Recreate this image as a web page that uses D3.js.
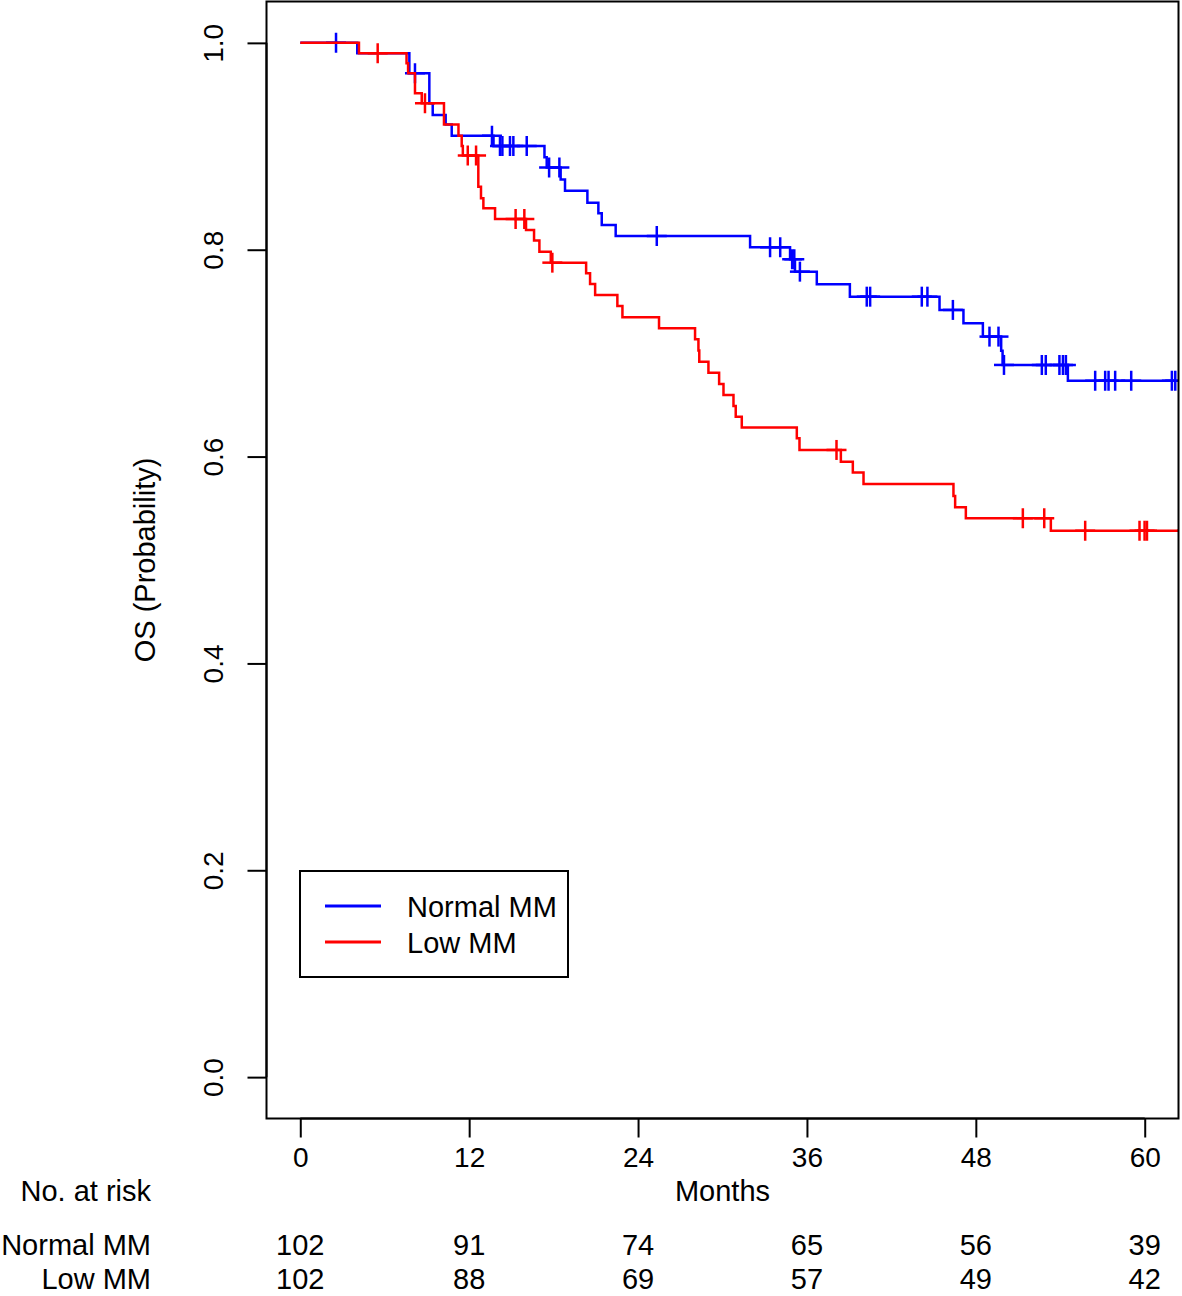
<!DOCTYPE html>
<html>
<head>
<meta charset="utf-8">
<script src="https://cdn.jsdelivr.net/npm/d3@7"></script>
<style>
  html, body { margin: 0; padding: 0; background: #fff; }
  svg { display: block; }
  text { font-family: "Liberation Sans", Arial, Helvetica, sans-serif; fill: #000; }
</style>
</head>
<body>
<svg id="chart" width="1182" height="1296"></svg>
<script>
// ---- Data ----
const groups = ["Normal MM", "Low MM"];
const colors = ["#0000FF", "#FF0000"];

// Normal MM: step times (months) and survival after each step
const normalTimes = [0, 4.05, 7.75, 9.17, 9.41, 10.33, 10.76, 13.73, 17.35, 17.51, 18.5, 18.81, 20.4, 21.18, 21.42, 22.41, 31.96, 34.8, 35.15, 36.7, 39.05, 45.42, 47.12, 48.5, 49.8, 49.9, 54.54, 62.17];
const normalSurv  = [1.0, 0.990, 0.9706, 0.9416, 0.9303, 0.921, 0.9103, 0.9003, 0.8894, 0.8794, 0.868, 0.857, 0.8455, 0.8352, 0.824, 0.8133, 0.8024, 0.7908, 0.7788, 0.7666, 0.7546, 0.7418, 0.7289, 0.716, 0.7024, 0.6886, 0.6734, 0.6734];
const normalCensor = [2.54, 8.15, 13.62, 14.19, 14.36, 14.9, 15.14, 16.09, 17.68, 18.41, 25.33, 33.38, 34.1, 34.95, 35.1, 35.5, 40.25, 40.49, 44.16, 44.56, 46.37, 48.97, 49.61, 50.0, 52.69, 52.97, 53.94, 54.19, 54.4, 56.48, 57.19, 57.43, 57.9, 59.04, 61.93, 62.17];

// Low MM
const lowTimes = [0, 4.17, 7.55, 7.66, 8.15, 8.63, 10.21, 11.24, 11.47, 11.55, 12.65, 12.84, 13.01, 13.84, 16.04, 16.61, 16.99, 17.8, 20.31, 20.59, 20.95, 22.53, 22.89, 25.49, 28.05, 28.29, 28.35, 29.0, 29.76, 30.07, 30.78, 30.94, 31.37, 35.28, 35.47, 38.41, 39.26, 40.02, 46.41, 46.53, 47.29, 53.33, 63.0];
const lowSurv  = [1.0, 0.990, 0.9803, 0.9706, 0.9512, 0.9416, 0.921, 0.9103, 0.9003, 0.891, 0.861, 0.8498, 0.8401, 0.8297, 0.8191, 0.8088, 0.7981, 0.7875, 0.7772, 0.7669, 0.7563, 0.7457, 0.7347, 0.724, 0.7134, 0.7025, 0.6918, 0.6811, 0.6702, 0.6596, 0.649, 0.6386, 0.628, 0.6177, 0.6064, 0.5951, 0.5845, 0.5735, 0.5619, 0.551, 0.5404, 0.5284, 0.5284];
const lowCensor = [5.5, 8.86, 11.9, 12.49, 15.3, 15.92, 17.91, 38.1, 51.34, 52.86, 55.77, 59.63, 59.99, 60.16, 63.0];

const xTicks = [0, 12, 24, 36, 48, 60];
const yTicks = [0.0, 0.2, 0.4, 0.6, 0.8, 1.0];
const riskNormal = [102, 91, 74, 65, 56, 39];
const riskLow    = [102, 88, 69, 57, 49, 42];

// ---- Layout ----
const svg = d3.select("#chart");
const box = { left: 266.5, right: 1178.5, top: 1.5, bottom: 1118.5 };
const x = d3.scaleLinear().domain([-2.4, 62.4]).range([box.left, box.right]);
const y = d3.scaleLinear().domain([-0.04, 1.04]).range([box.bottom, box.top]);
const font = "28px";

svg.append("defs").append("clipPath").attr("id", "plotclip")
  .append("rect").attr("x", box.left).attr("y", box.top)
  .attr("width", box.right - box.left).attr("height", box.bottom - box.top);

const series = [
  { times: normalTimes, surv: normalSurv, censor: normalCensor, color: colors[0] },
  { times: lowTimes, surv: lowSurv, censor: lowCensor, color: colors[1] }
];

function survAt(s, t) {
  let v = s.surv[0];
  for (let i = 0; i < s.times.length; i++) { if (s.times[i] <= t) v = s.surv[i]; }
  return v;
}

const plot = svg.append("g").attr("clip-path", "url(#plotclip)");
const line = d3.line().x(d => x(d[0])).y(d => y(d[1])).curve(d3.curveStepAfter);

series.forEach(s => {
  const pts = s.times.map((t, i) => [t, s.surv[i]]);
  plot.append("path").attr("d", line(pts)).attr("fill", "none")
    .attr("stroke", s.color).attr("stroke-width", 2.5);
  const arm = 10;
  s.censor.forEach(t => {
    const cx = x(t), cy = y(survAt(s, t));
    plot.append("line").attr("x1", cx - arm).attr("x2", cx + arm).attr("y1", cy).attr("y2", cy)
      .attr("stroke", s.color).attr("stroke-width", 2.5);
    plot.append("line").attr("x1", cx).attr("x2", cx).attr("y1", cy - arm).attr("y2", cy + arm)
      .attr("stroke", s.color).attr("stroke-width", 2.5);
  });
});

// Box
svg.append("rect").attr("x", box.left).attr("y", box.top)
  .attr("width", box.right - box.left).attr("height", box.bottom - box.top)
  .attr("fill", "none").attr("stroke", "#000").attr("stroke-width", 2);

// X axis
const xAxis = d3.axisBottom(x).tickValues(xTicks).tickSize(19).tickPadding(9).tickFormat(d3.format("d"));
const gx = svg.append("g").attr("transform", `translate(0,${box.bottom})`).call(xAxis);
gx.select(".domain").attr("d", `M${x(0)},0H${x(60)}`).attr("stroke-width", 2);
gx.selectAll(".tick line").attr("stroke-width", 2);
gx.selectAll(".tick text").attr("font-size", font).attr("font-family", null).attr("dy", "0.74em");

// Y axis
const yAxis = d3.axisLeft(y).tickValues(yTicks).tickSize(19).tickPadding(0).tickFormat(d3.format(".1f"));
const gy = svg.append("g").attr("transform", `translate(${box.left},0)`).call(yAxis);
gy.select(".domain").attr("d", `M0,${y(0)}V${y(1)}`).attr("stroke-width", 2);
gy.selectAll(".tick line").attr("stroke-width", 2);
gy.selectAll(".tick text").attr("font-size", font).attr("font-family", null)
  .attr("x", null).attr("dy", null)
  .attr("text-anchor", "middle")
  .attr("transform", "translate(-54,0) rotate(-90)")
  .attr("dy", "0.36em");

// Axis titles
svg.append("text").attr("transform", `translate(155,${(box.top + box.bottom) / 2}) rotate(-90)`)
  .attr("text-anchor", "middle").attr("font-size", "29px").text("OS (Probability)");
svg.append("text").attr("x", (box.left + box.right) / 2).attr("y", 1201)
  .attr("text-anchor", "middle").attr("font-size", "29px").text("Months");

// Risk table
svg.append("text").attr("x", 151).attr("y", 1201).attr("text-anchor", "end")
  .attr("font-size", "29px").text("No. at risk");
[[groups[0], riskNormal, 1255], [groups[1], riskLow, 1289]].forEach(([name, vals, yy]) => {
  svg.append("text").attr("x", 151).attr("y", yy).attr("text-anchor", "end")
    .attr("font-size", "29px").text(name);
  vals.forEach((v, i) => {
    svg.append("text").attr("x", x(xTicks[i])).attr("y", yy).attr("text-anchor", "middle")
      .attr("font-size", "29px").text(v);
  });
});

// Legend
const lg = svg.append("g");
lg.append("rect").attr("x", 300).attr("y", 871).attr("width", 268).attr("height", 106)
  .attr("fill", "#fff").attr("stroke", "#000").attr("stroke-width", 2);
groups.forEach((g, i) => {
  const yy = 906 + i * 36;
  lg.append("line").attr("x1", 325).attr("x2", 381).attr("y1", yy).attr("y2", yy)
    .attr("stroke", colors[i]).attr("stroke-width", 3);
  lg.append("text").attr("x", 407).attr("y", yy + 10.5).attr("font-size", "29px").text(g);
});
</script>
</body>
</html>
